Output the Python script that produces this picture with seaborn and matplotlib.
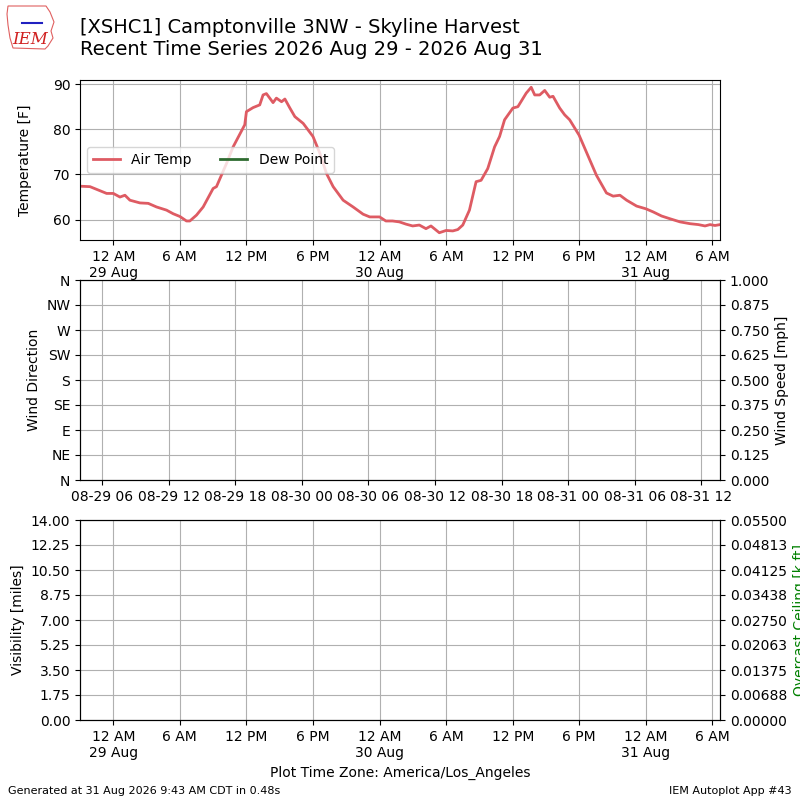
from zoneinfo import ZoneInfo
import numpy as np
import pandas as pd
import matplotlib
matplotlib.use("Agg")
import matplotlib.pyplot as plt
import matplotlib.dates as mdates
import matplotlib.ticker as mticker
from matplotlib.patches import Polygon
from matplotlib.lines import Line2D
import seaborn as sns

LA = ZoneInfo("America/Los_Angeles")
UTC = ZoneInfo("UTC")

# observation times (local, America/Los_Angeles) and air temperature [F]
obs_times = [
    "2026-08-28 21:00", "2026-08-28 21:54", "2026-08-28 22:48", "2026-08-28 23:24",
    "2026-08-29 00:00", "2026-08-29 00:36", "2026-08-29 01:03", "2026-08-29 01:30",
    "2026-08-29 02:24", "2026-08-29 03:09", "2026-08-29 03:54", "2026-08-29 04:48",
    "2026-08-29 05:24", "2026-08-29 06:00", "2026-08-29 06:36", "2026-08-29 06:54",
    "2026-08-29 07:30", "2026-08-29 08:06", "2026-08-29 09:00", "2026-08-29 09:18",
    "2026-08-29 10:12", "2026-08-29 10:48", "2026-08-29 11:51", "2026-08-29 12:00",
    "2026-08-29 12:36", "2026-08-29 13:12", "2026-08-29 13:30", "2026-08-29 13:48",
    "2026-08-29 14:24", "2026-08-29 14:42", "2026-08-29 15:10", "2026-08-29 15:28",
    "2026-08-29 15:55", "2026-08-29 16:22", "2026-08-29 17:07", "2026-08-29 18:00",
    "2026-08-29 18:37", "2026-08-29 19:13", "2026-08-29 19:49", "2026-08-29 20:43",
    "2026-08-29 21:37", "2026-08-29 22:31", "2026-08-29 23:07", "2026-08-30 00:00",
    "2026-08-30 00:34", "2026-08-30 01:10", "2026-08-30 01:47", "2026-08-30 02:23",
    "2026-08-30 02:59", "2026-08-30 03:35", "2026-08-30 04:11", "2026-08-30 04:38",
    "2026-08-30 05:23", "2026-08-30 06:00", "2026-08-30 06:36", "2026-08-30 07:03",
    "2026-08-30 07:30", "2026-08-30 08:06", "2026-08-30 08:42", "2026-08-30 09:09",
    "2026-08-30 09:45", "2026-08-30 10:22", "2026-08-30 10:49", "2026-08-30 11:16",
    "2026-08-30 12:01", "2026-08-30 12:28", "2026-08-30 13:13", "2026-08-30 13:40",
    "2026-08-30 13:59", "2026-08-30 14:26", "2026-08-30 14:53", "2026-08-30 15:20",
    "2026-08-30 15:38", "2026-08-30 16:14", "2026-08-30 16:41", "2026-08-30 17:08",
    "2026-08-30 17:59", "2026-08-30 18:38", "2026-08-30 19:33", "2026-08-30 20:27",
    "2026-08-30 21:03", "2026-08-30 21:40", "2026-08-30 22:16", "2026-08-30 23:10",
    "2026-08-31 00:00", "2026-08-31 00:40", "2026-08-31 01:25", "2026-08-31 02:10",
    "2026-08-31 03:05", "2026-08-31 03:59", "2026-08-31 04:44", "2026-08-31 05:20",
    "2026-08-31 05:47", "2026-08-31 06:14", "2026-08-31 06:41",
]
air_temp = [
    67.4, 67.3, 66.4, 65.8,
    65.8, 65.0, 65.4, 64.3,
    63.7, 63.6, 62.8, 62.1,
    61.3, 60.7, 59.7, 59.7,
    61.0, 62.8, 66.9, 67.3,
    72.4, 76.1, 81.0, 83.9,
    84.8, 85.4, 87.6, 87.9,
    85.9, 86.9, 86.1, 86.7,
    84.7, 82.8, 81.3, 78.4,
    74.7, 70.2, 67.3, 64.3,
    62.8, 61.2, 60.6, 60.6,
    59.7, 59.7, 59.5, 59.0,
    58.6, 58.8, 58.0, 58.6,
    57.1, 57.6, 57.5, 57.8,
    58.8, 62.1, 68.4, 68.7,
    71.3, 76.1, 78.4, 82.1,
    84.7, 85.0, 88.0, 89.3,
    87.6, 87.6, 88.6, 87.1,
    87.3, 84.7, 83.2, 82.1,
    78.7, 75.0, 69.8, 65.9,
    65.2, 65.4, 64.3, 63.0,
    62.4, 61.7, 60.8, 60.2,
    59.5, 59.1, 58.9, 58.6,
    58.9, 58.7, 58.9,
]
dew_point = []  # no dew point reports

dir_ticks = [0, 45, 90, 135, 180, 225, 270, 315, 360]
dir_labels = ["N", "NE", "E", "SE", "S", "SW", "W", "NW", "N"]

title_lines = [
    "[XSHC1] Camptonville 3NW - Skyline Harvest",
    "Recent Time Series 2026 Aug 29 - 2026 Aug 31",
]

# local -> naive UTC (matplotlib treats naive as UTC)
t = (pd.to_datetime(obs_times).tz_localize("America/Los_Angeles")
     .tz_convert("UTC").tz_localize(None))
df = pd.DataFrame({"valid": t, "tmpf": air_temp})


def local_fmt(x, pos=None):
    dt = mdates.num2date(x, tz=LA)
    hr = dt.hour % 12 or 12
    ap = "AM" if dt.hour < 12 else "PM"
    if dt.hour == 0:
        return f"{hr} {ap}\n{dt.day} {dt.strftime('%b')}"
    return f"{hr} {ap}"


def local_axis(ax):
    ax.xaxis.set_major_locator(mdates.HourLocator(byhour=[0, 6, 12, 18], tz=LA))
    ax.xaxis.set_major_formatter(mticker.FuncFormatter(local_fmt))


fig = plt.figure(figsize=(8, 8), dpi=100)
ax1 = fig.add_axes([0.1, 0.7, 0.8, 0.2])
ax2 = fig.add_axes([0.1, 0.4, 0.8, 0.25])
ax3 = fig.add_axes([0.1, 0.1, 0.8, 0.25])

xmin, xmax = df["valid"].iloc[0], df["valid"].iloc[-1]

# temperature
sns.lineplot(data=df, x="valid", y="tmpf", ax=ax1, color="#de5b63",
             lw=2, label="Air Temp", estimator=None)
ax1.plot(df["valid"].iloc[:len(dew_point)], dew_point, color="#2e6b30",
         lw=2, label="Dew Point")
ax1.set_xlim(xmin, xmax)
ax1.yaxis.set_major_locator(mticker.MultipleLocator(10))
ax1.set_ylabel("Temperature [F]", labelpad=15)
ax1.set_xlabel("")
ax1.grid(True)
ax1.legend(loc="center left", ncol=2)
local_axis(ax1)

# wind
ax2.set_xlim(xmin, xmax)
ax2.set_ylim(0, 360)
ax2.set_yticks(dir_ticks)
ax2.set_yticklabels(dir_labels)
ax2.set_ylabel("Wind Direction")
ax2.xaxis.set_major_locator(mdates.HourLocator(byhour=[0, 6, 12, 18], tz=UTC))
ax2.xaxis.set_major_formatter(mdates.DateFormatter("%m-%d %H", tz=UTC))
ax2.grid(True)
ax2b = ax2.twinx()
ax2b.set_ylim(0, 1)
ax2b.set_yticks(np.linspace(0, 1, 9))
ax2b.yaxis.set_major_formatter(mticker.FormatStrFormatter("%.3f"))
ax2b.set_ylabel("Wind Speed [mph]")

# visibility / ceiling
ax3.set_xlim(xmin, xmax)
ax3.set_ylim(0, 14)
ax3.set_yticks(np.linspace(0, 14, 9))
ax3.yaxis.set_major_formatter(mticker.FormatStrFormatter("%.2f"))
ax3.set_ylabel("Visibility [miles]")
ax3.grid(True)
local_axis(ax3)
ax3.set_xlabel("Plot Time Zone: America/Los_Angeles")
ax3b = ax3.twinx()
ax3b.set_ylim(0, 0.055)
ax3b.set_yticks(np.linspace(0, 0.055, 9))
ax3b.yaxis.set_major_formatter(
    mticker.FuncFormatter(lambda v, p: f"{v + 1e-12:.5f}"))
ax3b.set_ylabel("Overcast Ceiling [k ft]", color="green")

fig.text(0.1, 0.978, "\n".join(title_lines), fontsize=14, va="top")

# rough stand-in for the IEM logo (state outline + text)
outline = [(8, 6), (46, 6), (50, 12), (54, 22), (51, 31), (53, 38), (48, 46),
           (45, 49), (13, 48), (10, 38), (8, 25), (7, 14)]
fig.patches.append(Polygon([(px / 800, 1 - py / 800) for px, py in outline],
                           closed=True, fill=False, edgecolor="#e06060",
                           lw=0.8, transform=fig.transFigure))
fig.lines.append(Line2D([22 / 800, 42 / 800], [1 - 23 / 800, 1 - 23 / 800],
                        color="#2020c0", lw=1.5, transform=fig.transFigure))
fig.text(0.0375, 1 - 39 / 800, "IEM", fontsize=12, color="#d02020",
         family="serif", style="italic", ha="center", va="center")
fig.text(0.01, 0.008, "Generated at 31 Aug 2026 9:43 AM CDT in 0.48s", fontsize=8)
fig.text(0.99, 0.008, "IEM Autoplot App #43", fontsize=8, ha="right")

fig.savefig("out.png", dpi=100)
